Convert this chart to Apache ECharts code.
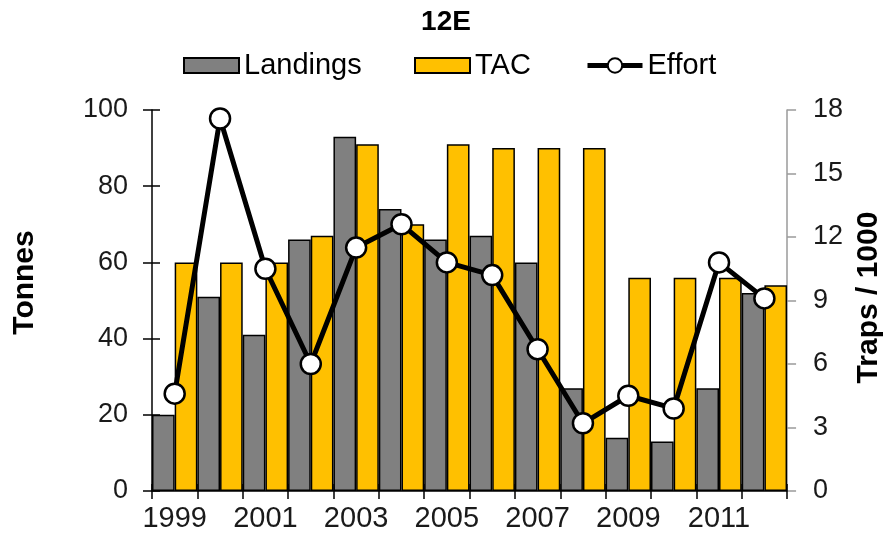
<!DOCTYPE html>
<html>
<head>
<meta charset="utf-8">
<script src="https://cdn.jsdelivr.net/npm/echarts@6/dist/echarts.min.js"></script>
<style>html,body{margin:0;padding:0;background:#fff}#c{width:892px;height:544px}</style>
</head>
<body>
<div id="c"></div>
<script>
const years = ['1999','2000','2001','2002','2003','2004','2005','2006','2007','2008','2009','2010','2011','2012'];
const landings = [20, 51, 41, 66, 93, 74, 66, 67, 60, 27, 14, 13, 27, 52];
const tac = [60, 60, 60, 67, 91, 70, 91, 90, 90, 90, 56, 56, 56, 54];
const effort = [4.6, 17.6, 10.5, 6.0, 11.5, 12.6, 10.8, 10.2, 6.7, 3.2, 4.5, 3.9, 10.8, 9.1];
const leftTicks = {min: 0, max: 100, interval: 20};
const rightTicks = {min: 0, max: 18, interval: 3};

const FONT = 'Liberation Sans';
const chart = echarts.init(document.getElementById('c'), null, {renderer: 'canvas'});
const legendText = {fontFamily: FONT, fontSize: 29, color: '#000'};
chart.setOption({
  animation: false,
  backgroundColor: '#fff',
  textStyle: {fontFamily: FONT},
  title: {
    text: '12E', left: 'center', top: 8, padding: 0,
    textStyle: {fontFamily: FONT, fontSize: 28, fontWeight: 'bold', color: '#000'}
  },
  legend: [
    {data: [{name: 'Landings', icon: 'rect'}], left: 183, top: 51, itemWidth: 55, itemHeight: 15, itemGap: 0, textStyle: legendText, padding: 0},
    {data: [{name: 'TAC', icon: 'rect'}], left: 414, top: 51, itemWidth: 55, itemHeight: 15, itemGap: 0, textStyle: legendText, padding: 0},
    {data: ['Effort'], left: 585, top: 51, itemWidth: 55, itemHeight: 18, itemGap: 0, textStyle: legendText, padding: 0,
     lineStyle: {width: 5, color: '#000'},
     itemStyle: {color: '#fff', borderColor: '#000', borderWidth: 2}}
  ],
  grid: {left: 152, right: 100, top: 110, bottom: 53},
  xAxis: [{
    type: 'category', data: years, boundaryGap: true,
    axisLine: {lineStyle: {color: '#000', width: 1.5}},
    axisTick: {show: true, length: 8, interval: 0, lineStyle: {color: '#000', width: 1.5}},
    axisLabel: {interval: 1, fontFamily: FONT, fontSize: 29, color: '#1a1a1a', margin: 13},
    splitLine: {show: false}
  }, {
    type: 'category', data: years, boundaryGap: true, position: 'bottom',
    axisLine: {show: false},
    axisTick: {show: true, inside: true, length: 7, interval: 0, lineStyle: {color: '#000', width: 1.5}},
    axisLabel: {show: false},
    splitLine: {show: false}
  }],
  yAxis: [{
    type: 'value', position: 'left', min: leftTicks.min, max: leftTicks.max, interval: leftTicks.interval,
    name: 'Tonnes', nameLocation: 'middle', nameRotate: 90, nameGap: 112,
    nameTextStyle: {fontFamily: FONT, fontSize: 30, fontWeight: 'bold', color: '#000', padding: [0, 0, 0, 36]},
    axisLine: {show: true, lineStyle: {color: '#000', width: 1.5}},
    axisTick: {show: true, length: 9, lineStyle: {color: '#000', width: 1.5}},
    axisLabel: {fontFamily: FONT, fontSize: 27, color: '#1a1a1a', margin: 24},
    splitLine: {show: false}
  }, {
    type: 'value', position: 'right', min: rightTicks.min, max: rightTicks.max, interval: rightTicks.interval,
    name: 'Traps / 1000', nameLocation: 'middle', nameRotate: 90, nameGap: 66,
    nameTextStyle: {fontFamily: FONT, fontSize: 30, fontWeight: 'bold', color: '#000', padding: [0, 0, 0, 6]},
    axisLine: {show: true, lineStyle: {color: '#9a9a9a', width: 1.5}},
    axisTick: {show: true, length: 9, lineStyle: {color: '#9a9a9a', width: 1.5}},
    axisLabel: {fontFamily: FONT, fontSize: 27, color: '#1a1a1a', margin: 26},
    splitLine: {show: false}
  }, {
    type: 'value', position: 'left', min: leftTicks.min, max: leftTicks.max, interval: leftTicks.interval,
    axisLine: {show: false},
    axisTick: {show: true, inside: true, length: 8, lineStyle: {color: '#000', width: 1.5}},
    axisLabel: {show: false},
    splitLine: {show: false}
  }],
  series: [{
    name: 'Landings', type: 'bar', data: landings, yAxisIndex: 0,
    barGap: '0%', barCategoryGap: '0%',
    itemStyle: {color: '#808080', borderColor: '#000', borderWidth: 1.5}
  }, {
    name: 'TAC', type: 'bar', data: tac, yAxisIndex: 0,
    barGap: '0%', barCategoryGap: '0%',
    itemStyle: {color: '#FFC000', borderColor: '#000', borderWidth: 1.5}
  }, {
    name: 'Effort', type: 'line', data: effort, yAxisIndex: 1, z: 5,
    symbol: 'circle', symbolSize: 20,
    lineStyle: {color: '#000', width: 5},
    itemStyle: {color: '#fff', borderColor: '#000', borderWidth: 2.5}
  }]
});
</script>
</body>
</html>
